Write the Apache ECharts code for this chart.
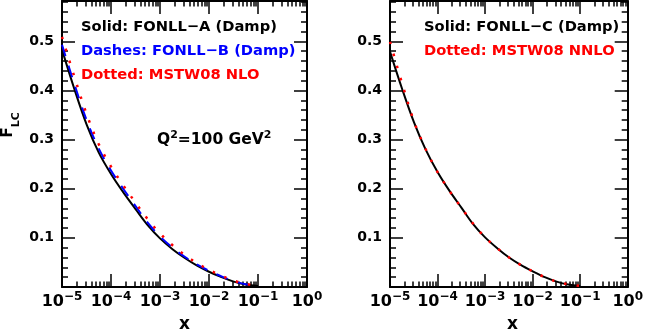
<!DOCTYPE html>
<html><head><meta charset="utf-8">
<script src="https://cdn.jsdelivr.net/npm/echarts@6/dist/echarts.min.js"></script>
<style>html,body{margin:0;padding:0;background:#fff}#c{width:646px;height:332px}</style>
</head><body><div id="c"></div>
<script>
// ---- data ----
const xValues  = [1e-5, 1.8e-5, 3.2e-5, 5.6e-5, 1e-4, 1.8e-4, 3.2e-4, 5.6e-4, 1e-3, 1.8e-3, 3.2e-3, 5.6e-3, 1e-2, 1.8e-2, 3.2e-2, 5.6e-2, 1e-1];
const fonllA   = [0.483, 0.402, 0.330, 0.274, 0.230, 0.192, 0.158, 0.126, 0.099, 0.077, 0.059, 0.044, 0.031, 0.020, 0.011, 0.005, 0.002];
const fonllB   = [0.493, 0.412, 0.339, 0.282, 0.237, 0.199, 0.164, 0.131, 0.103, 0.080, 0.0615, 0.046, 0.033, 0.0215, 0.012, 0.0055, 0.0023];
const mstwNLO  = [0.509, 0.427, 0.351, 0.291, 0.245, 0.206, 0.171, 0.138, 0.109, 0.085, 0.065, 0.049, 0.035, 0.023, 0.013, 0.0063, 0.0028];
const fonllC   = [0.479, 0.403, 0.335, 0.280, 0.234, 0.195, 0.161, 0.128, 0.101, 0.079, 0.060, 0.045, 0.032, 0.020, 0.011, 0.005, 0.002];
const mstwNNLO = [0.499, 0.414, 0.337, 0.281, 0.234, 0.195, 0.161, 0.129, 0.101, 0.079, 0.060, 0.045, 0.032, 0.020, 0.011, 0.0055, 0.0022];

const xMajorTicks = [1e-5, 1e-4, 1e-3, 1e-2, 1e-1, 1];
const xMinorTicks = [];
[1e-5, 1e-4, 1e-3, 1e-2, 1e-1].forEach(d => { for (let k = 2; k <= 9; k++) xMinorTicks.push(+(d * k).toPrecision(3)); });
const yMajorTicks = [0, 0.1, 0.2, 0.3, 0.4, 0.5];
const yLabelTicks = [0.1, 0.2, 0.3, 0.4, 0.5];
const yMinorTicks = [0.02, 0.04, 0.06, 0.08, 0.12, 0.14, 0.16, 0.18, 0.22, 0.24, 0.26, 0.28, 0.32, 0.34, 0.36, 0.38, 0.42, 0.44, 0.46, 0.48, 0.52, 0.54, 0.56, 0.58];
const Y_MIN = 0, Y_MAX = 0.582;

const leftTexts  = [['Solid: FONLL\u2212A (Damp)', '#000000'], ['Dashes: FONLL\u2212B (Damp)', '#0000ff'], ['Dotted: MSTW08 NLO', '#ff0000']];
const rightTexts = [['Solid: FONLL\u2212C (Damp)', '#000000'], ['Dotted: MSTW08 NNLO', '#ff0000']];

// ---- chart ----
const FONT = 'DejaVu Sans';
const BLACK = '#000';
function xFmt(v) {
  const e = Math.round(Math.log10(v));
  return '{b|10}{s|' + (e < 0 ? '\u2212' + (-e) : e) + '}';
}
function xAxes(g) {
  const c = { gridIndex: g, type: 'log', logBase: 10, min: 1e-5, max: 1, splitLine: { show: false }, minorTick: { show: false } };
  const line = { show: true, onZero: false, lineStyle: { color: BLACK, width: 2 } };
  const major = { show: true, inside: true, length: 13, customValues: xMajorTicks, lineStyle: { color: BLACK, width: 1.5 } };
  const minor = { show: true, inside: true, length: 5.5, customValues: xMinorTicks, lineStyle: { color: BLACK, width: 1.5 } };
  return [
    Object.assign({}, c, { position: 'bottom', axisLine: line, axisTick: major,
      axisLabel: { show: true, customValues: xMajorTicks, margin: 4, formatter: xFmt, color: BLACK,
        rich: { b: { fontFamily: FONT, fontWeight: 'bold', fontSize: 16, lineHeight: 22, color: BLACK },
                s: { fontFamily: FONT, fontWeight: 'bold', fontSize: 12, lineHeight: 10, verticalAlign: 'top', color: BLACK } } } }),
    Object.assign({}, c, { position: 'top', axisLine: line, axisTick: major, axisLabel: { show: false } }),
    Object.assign({}, c, { position: 'bottom', axisLine: { show: false, onZero: false }, axisTick: minor, axisLabel: { show: false } }),
    Object.assign({}, c, { position: 'top', axisLine: { show: false, onZero: false }, axisTick: minor, axisLabel: { show: false } })
  ];
}
function yAxes(g) {
  const c = { gridIndex: g, type: 'value', min: Y_MIN, max: Y_MAX, splitLine: { show: false }, minorTick: { show: false } };
  const line = { show: true, onZero: false, lineStyle: { color: BLACK, width: 2 } };
  const major = { show: true, inside: true, length: 13, customValues: yMajorTicks, lineStyle: { color: BLACK, width: 1.5 } };
  const minor = { show: true, inside: true, length: 6, customValues: yMinorTicks, lineStyle: { color: BLACK, width: 1.5 } };
  return [
    Object.assign({}, c, { position: 'left', axisLine: line, axisTick: major,
      axisLabel: { show: true, customValues: yLabelTicks, margin: 8, color: BLACK, fontFamily: FONT, fontWeight: 'bold', fontSize: 14,
        formatter: v => v.toFixed(1) } }),
    Object.assign({}, c, { position: 'right', axisLine: line, axisTick: major, axisLabel: { show: false } }),
    Object.assign({}, c, { position: 'left', axisLine: { show: false, onZero: false }, axisTick: minor, axisLabel: { show: false } }),
    Object.assign({}, c, { position: 'right', axisLine: { show: false, onZero: false }, axisTick: minor, axisLabel: { show: false } })
  ];
}
function pairs(ys) { return xValues.map((x, i) => [x, ys[i]]); }
function line(name, ys, axisIdx, color, width, type, z) {
  return { name, type: 'line', xAxisIndex: axisIdx, yAxisIndex: axisIdx, data: pairs(ys), showSymbol: false, symbol: 'none',
    smooth: 0.35, z, lineStyle: { color, width, type }, emphasis: { disabled: true } };
}
function label(text, x, y, color, size) {
  return { type: 'text', x, y, z: 100, style: { text, fill: color, fontFamily: FONT, fontWeight: 'bold', fontSize: size || 14.7,
    textAlign: 'left', textVerticalAlign: 'middle' } };
}

const graphic = [];
leftTexts.forEach((t, i) => graphic.push(label(t[0], 81, 27 + 24 * i, t[1])));
rightTexts.forEach((t, i) => graphic.push(label(t[0], 424, 27 + 24 * i, t[1])));
graphic.push({ type: 'text', x: 157, y: 140, z: 100, style: { text: '{b|Q}{s|2}{b|=100 GeV}{s|2}', textAlign: 'left', textVerticalAlign: 'middle',
  rich: { b: { fontFamily: FONT, fontWeight: 'bold', fontSize: 15.5, lineHeight: 20, fill: BLACK, color: BLACK },
          s: { fontFamily: FONT, fontWeight: 'bold', fontSize: 11, lineHeight: 10, verticalAlign: 'top', fill: BLACK, color: BLACK } } } });
graphic.push({ type: 'text', x: 184.5, y: 325, z: 100, style: { text: 'x', fill: BLACK, fontFamily: FONT, fontWeight: 'bold', fontSize: 17, textAlign: 'center', textVerticalAlign: 'middle' } });
graphic.push({ type: 'text', x: 512.5, y: 325, z: 100, style: { text: 'x', fill: BLACK, fontFamily: FONT, fontWeight: 'bold', fontSize: 17, textAlign: 'center', textVerticalAlign: 'middle' } });
graphic.push({ type: 'text', x: 11, y: 125, rotation: Math.PI / 2, z: 100, style: { text: '{f|F}{s|LC}', textAlign: 'center', textVerticalAlign: 'middle',
  rich: { f: { fontFamily: FONT, fontWeight: 'bold', fontSize: 15.5, lineHeight: 22, verticalAlign: 'top', fill: BLACK, color: BLACK },
          s: { fontFamily: FONT, fontWeight: 'bold', fontSize: 11, lineHeight: 13, verticalAlign: 'bottom', fill: BLACK, color: BLACK } } } });

const option = {
  animation: false,
  backgroundColor: '#fff',
  grid: [
    { left: 62, top: 1, width: 245, height: 286, containLabel: false },
    { left: 390, top: 1, width: 245, height: 286, containLabel: false }
  ],
  xAxis: xAxes(0).concat(xAxes(1)),
  yAxis: yAxes(0).concat(yAxes(1)),
  series: [
    line('FONLL-A (Damp)', fonllA, 0, '#000000', 2, 'solid', 2),
    line('FONLL-B (Damp)', fonllB, 0, '#0000ff', 2, [12, 10], 3),
    line('MSTW08 NLO', mstwNLO, 0, '#ff0000', 2.5, [2.5, 10], 4),
    line('FONLL-C (Damp)', fonllC, 4, '#000000', 2, 'solid', 2),
    line('MSTW08 NNLO', mstwNNLO, 4, '#ff0000', 2.5, [2.5, 10], 4)
  ],
  graphic
};
const chart = echarts.init(document.getElementById('c'), null, { renderer: 'canvas' });
chart.setOption(option);
</script>
</body></html>
